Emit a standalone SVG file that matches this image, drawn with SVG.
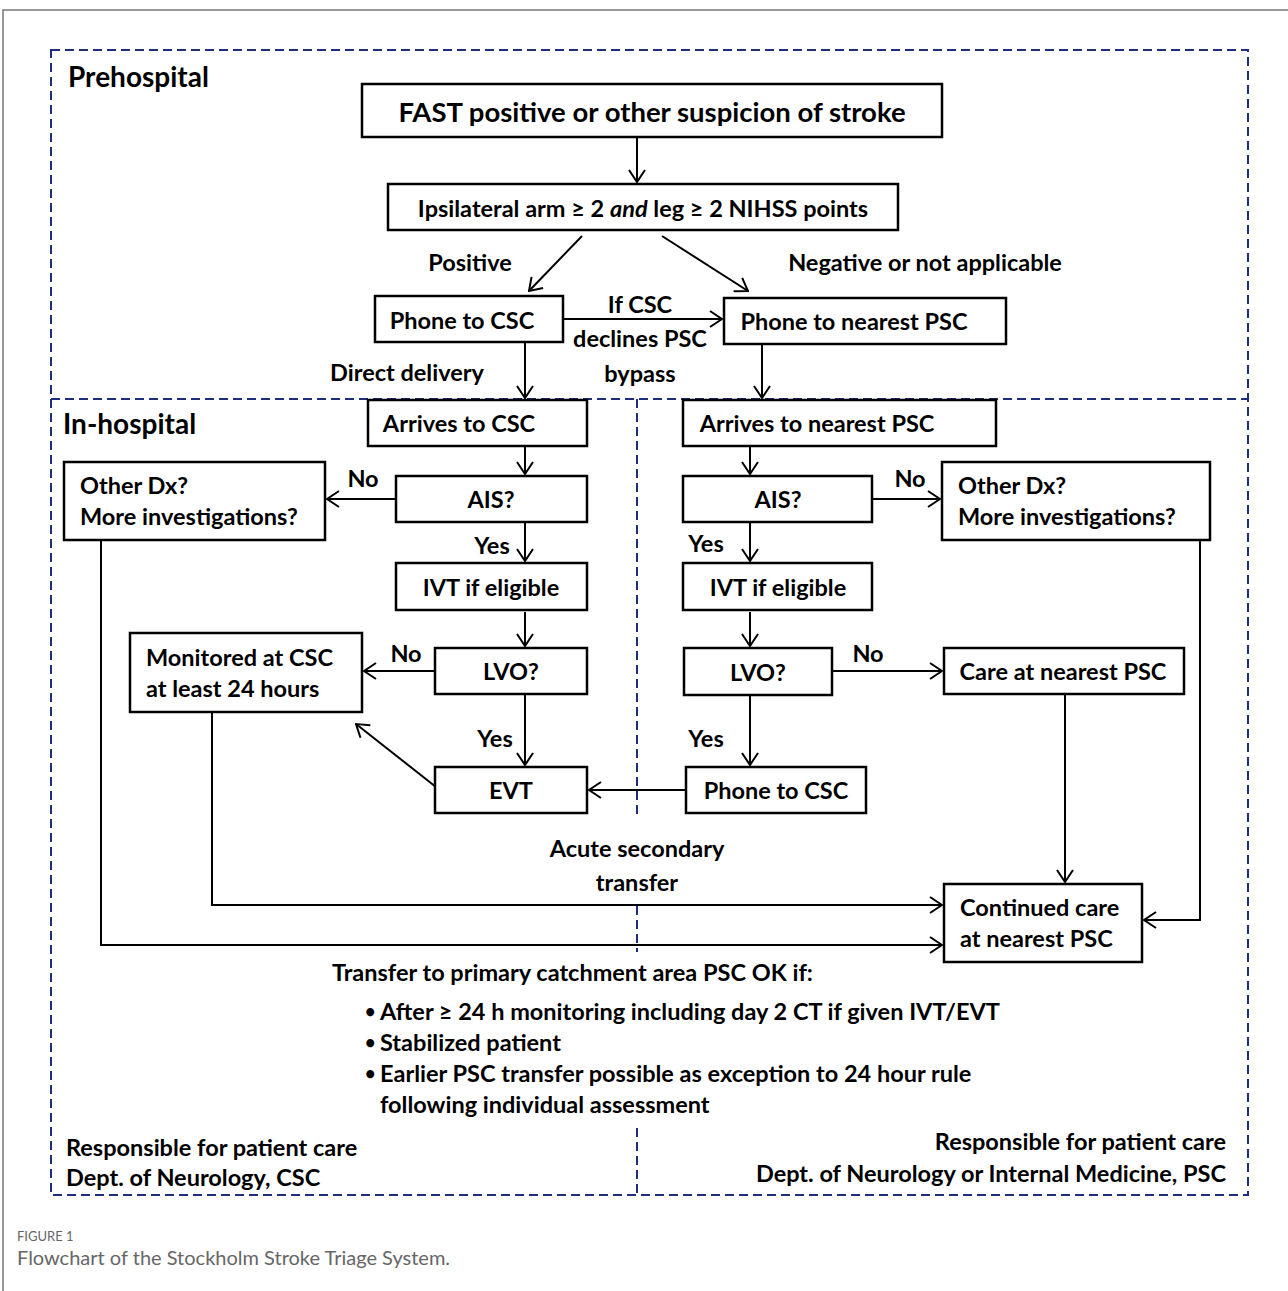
<svg xmlns="http://www.w3.org/2000/svg" width="1288" height="1291" viewBox="0 0 1288 1291">
<style>
.t{font-family:Lato,"Liberation Sans",sans-serif;font-weight:bold;fill:#000;}
.c{text-anchor:middle;dominant-baseline:central;}
.s22{font-size:23.5px;}
.box{fill:#fff;stroke:#000;stroke-width:2.5;}
.con{fill:none;stroke:#000;stroke-width:2;}
.arr{marker-end:url(#ah);}
.dash{fill:none;stroke:#1c2e7c;stroke-width:2;stroke-dasharray:9 5;}
</style>
<defs>
<marker id="ah" viewBox="0 0 14 18" refX="13" refY="9" markerWidth="14" markerHeight="18" orient="auto" markerUnits="userSpaceOnUse">
<path d="M1,1 L13,9 L1,17" fill="none" stroke="#000" stroke-width="2"/>
</marker>
</defs>
<rect width="1288" height="1291" fill="#fff"/>
<path d="M3,1291 V10 H1288" fill="none" stroke="#777" stroke-width="1.5"/>

<g id="frames">
<rect class="dash" x="51" y="50" width="1197" height="1145"/>
<path class="dash" d="M51,399 H1248"/>
<path class="dash" d="M637,399 V819"/>
<path class="dash" d="M637,906 V952"/>
<path class="dash" d="M637,1128 V1195"/>
</g>

<g id="section-labels" class="t">
<text x="68" y="87" font-size="28">Prehospital</text>
<text x="63" y="434" font-size="28">In-hospital</text>
</g>

<g id="connectors">
<path class="con arr" d="M637,137 V182"/>
<path class="con arr" d="M582,236 L529,291"/>
<path class="con arr" d="M662,236 L748,291"/>
<path class="con arr" d="M563,319 H722"/>
<path class="con arr" d="M525,342 V398"/>
<path class="con arr" d="M762,344 V398"/>
<path class="con arr" d="M525,446 V474"/>
<path class="con arr" d="M396,499 H327"/>
<path class="con arr" d="M525,522 V561"/>
<path class="con arr" d="M525,612 V646"/>
<path class="con arr" d="M435,671 H364"/>
<path class="con arr" d="M525,694 V765"/>
<path class="con arr" d="M436,787 L356,724"/>
<path class="con arr" d="M686,790 H589"/>
<path class="con arr" d="M750,446 V474"/>
<path class="con arr" d="M872,499 H940"/>
<path class="con arr" d="M750,522 V561"/>
<path class="con arr" d="M750,612 V646"/>
<path class="con arr" d="M832,671 H942"/>
<path class="con arr" d="M750,695 V765"/>
<path class="con arr" d="M1065,694 V882"/>
<path class="con arr" d="M1200,540 V920 H1144"/>
<path class="con arr" d="M212,712 V905 H942"/>
<path class="con arr" d="M101,540 V945 H942"/>
</g>

<g id="connector-labels" class="t s22">
<text x="470" y="262" class="c">Positive</text>
<text x="925" y="262" class="c">Negative or not applicable</text>
<text x="640" y="304" class="c">If CSC</text>
<text x="640" y="338" class="c">declines PSC</text>
<text x="640" y="373" class="c">bypass</text>
<text x="407" y="372" class="c">Direct delivery</text>
<text x="363" y="478" class="c">No</text>
<text x="492" y="545" class="c">Yes</text>
<text x="406" y="653" class="c">No</text>
<text x="495" y="738" class="c">Yes</text>
<text x="910" y="478" class="c">No</text>
<text x="706" y="543" class="c">Yes</text>
<text x="868" y="653" class="c">No</text>
<text x="706" y="738" class="c">Yes</text>
<text x="637" y="848" class="c">Acute secondary</text>
<text x="637" y="882" class="c">transfer</text>
</g>

<g id="n-fast"><rect class="box" x="362" y="84" width="580" height="53"/><text class="t c" x="652" y="111" font-size="27.5">FAST positive or other suspicion of stroke</text></g>
<g id="n-ipsi"><rect class="box" x="388" y="184" width="510" height="46"/><text class="t c" x="643" y="208" font-size="23.5">Ipsilateral arm ≥ 2 <tspan font-style="italic">and</tspan> leg ≥ 2 NIHSS points</text></g>
<g id="n-phone-csc"><rect class="box" x="375" y="296" width="188" height="46"/><text class="t c s22" x="462" y="320">Phone to CSC</text></g>
<g id="n-phone-psc"><rect class="box" x="724" y="298" width="282" height="46"/><text class="t c s22" x="854" y="321">Phone to nearest PSC</text></g>
<g id="n-arr-csc"><rect class="box" x="368" y="400" width="219" height="46"/><text class="t c s22" x="459" y="423">Arrives to CSC</text></g>
<g id="n-arr-psc"><rect class="box" x="683" y="400" width="313" height="46"/><text class="t c s22" x="817" y="423">Arrives to nearest PSC</text></g>
<g id="n-ais-l"><rect class="box" x="396" y="476" width="191" height="46"/><text class="t c s22" x="491" y="499">AIS?</text></g>
<g id="n-other-l"><rect class="box" x="64" y="462" width="261" height="78"/><text class="t s22" x="80" y="494">Other Dx?</text><text class="t s22" x="80" y="525">More investigations?</text></g>
<g id="n-ivt-l"><rect class="box" x="396" y="563" width="191" height="47"/><text class="t c s22" x="491" y="587">IVT if eligible</text></g>
<g id="n-lvo-l"><rect class="box" x="435" y="648" width="152" height="46"/><text class="t c s22" x="511" y="671">LVO?</text></g>
<g id="n-monitored"><rect class="box" x="130" y="633" width="232" height="79"/><text class="t s22" x="146" y="666">Monitored at CSC</text><text class="t s22" x="146" y="697">at least 24 hours</text></g>
<g id="n-evt"><rect class="box" x="435" y="767" width="152" height="46"/><text class="t c s22" x="511" y="790">EVT</text></g>
<g id="n-ais-r"><rect class="box" x="683" y="476" width="189" height="46"/><text class="t c s22" x="778" y="499">AIS?</text></g>
<g id="n-other-r"><rect class="box" x="942" y="462" width="268" height="78"/><text class="t s22" x="958" y="494">Other Dx?</text><text class="t s22" x="958" y="525">More investigations?</text></g>
<g id="n-ivt-r"><rect class="box" x="683" y="563" width="189" height="47"/><text class="t c s22" x="778" y="587">IVT if eligible</text></g>
<g id="n-lvo-r"><rect class="box" x="684" y="648" width="148" height="47"/><text class="t c s22" x="758" y="672">LVO?</text></g>
<g id="n-care"><rect class="box" x="944" y="648" width="240" height="46"/><text class="t c s22" x="1063" y="671">Care at nearest PSC</text></g>
<g id="n-phone-csc-r"><rect class="box" x="686" y="767" width="180" height="46"/><text class="t c s22" x="776" y="790">Phone to CSC</text></g>
<g id="n-continued"><rect class="box" x="944" y="884" width="198" height="78"/><text class="t s22" x="960" y="916">Continued care</text><text class="t s22" x="960" y="947">at nearest PSC</text></g>

<g id="notes" class="t s22">
<text x="332" y="981">Transfer to primary catchment area PSC OK if:</text>
<text x="365" y="1018" font-size="18">•</text><text x="380" y="1020">After ≥ 24 h monitoring including day 2 CT if given IVT/EVT</text>
<text x="365" y="1049" font-size="18">•</text><text x="380" y="1051">Stabilized patient</text>
<text x="365" y="1080" font-size="18">•</text><text x="380" y="1082">Earlier PSC transfer possible as exception to 24 hour rule</text>
<text x="380" y="1113">following individual assessment</text>
<text x="66" y="1156">Responsible for patient care</text>
<text x="66" y="1186">Dept. of Neurology, CSC</text>
<text x="1226" y="1150" text-anchor="end">Responsible for patient care</text>
<text x="1226" y="1182" text-anchor="end">Dept. of Neurology or Internal Medicine, PSC</text>
</g>

<g id="caption" font-family="Lato,'Liberation Sans',sans-serif" fill="#666">
<text x="17" y="1241" font-size="13">FIGURE 1</text>
<text x="17" y="1265" font-size="20">Flowchart of the Stockholm Stroke Triage System.</text>
</g>
</svg>
